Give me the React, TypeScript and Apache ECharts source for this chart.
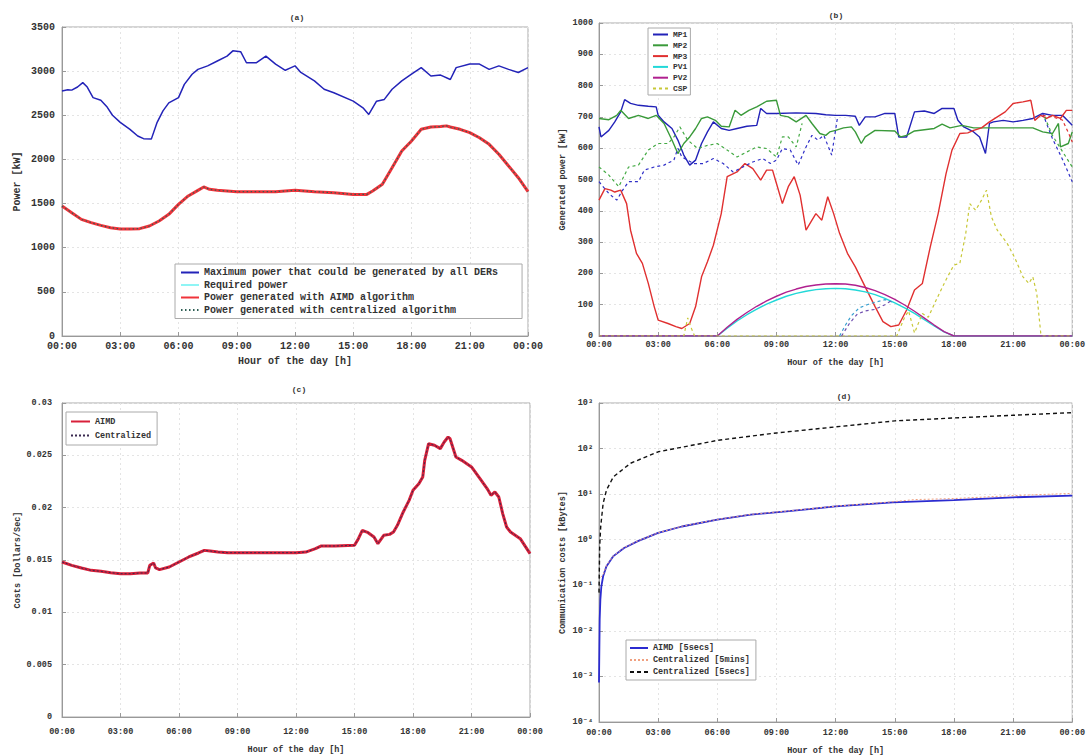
import React, { useEffect, useRef } from "react";
import * as echarts from "echarts";

const FONT = '"Liberation Mono", "DejaVu Sans Mono", monospace';

// ---------- Panel (a): power [kW] vs hour ----------
const maxPower: [number, number][] = [
  [0, 2775], [0.3, 2790], [0.5, 2785], [0.8, 2820], [1.07, 2870], [1.3, 2820], [1.6, 2700], [2, 2670],
  [2.3, 2600], [2.6, 2500], [3, 2420], [3.5, 2340], [3.9, 2265], [4.2, 2235], [4.6, 2230], [4.9, 2420],
  [5.2, 2550], [5.5, 2640], [6, 2700], [6.3, 2850], [6.7, 2965], [7, 3020], [7.5, 3060], [8, 3115],
  [8.5, 3170], [8.8, 3230], [9.2, 3220], [9.5, 3095], [10, 3095], [10.5, 3170], [11, 3080], [11.5, 3010],
  [11.8, 3040], [12, 3060], [12.3, 2985], [13, 2890], [13.5, 2795], [14, 2755], [15, 2660], [15.5, 2585],
  [15.8, 2510], [16.2, 2660], [16.6, 2680], [17, 2795], [17.5, 2890], [18, 2965], [18.5, 3040], [19, 2945],
  [19.5, 2955], [20, 2905], [20.3, 3040], [21, 3080], [21.5, 3080], [22, 3020], [22.5, 3060], [23, 3020],
  [23.5, 2985], [24, 3040],
];
const requiredPower: [number, number][] = [
  [0, 1472], [0.5, 1397], [1, 1321], [1.5, 1284], [2, 1253], [2.5, 1227], [3, 1212], [3.5, 1212], [4, 1216],
  [4.5, 1246], [5, 1303], [5.5, 1378], [6, 1491], [6.5, 1586], [7, 1650], [7.3, 1688], [7.6, 1661], [8, 1650],
  [9, 1635], [10, 1635], [11, 1635], [12, 1650], [13, 1635], [14, 1623], [15, 1604], [15.7, 1604], [16, 1642],
  [16.5, 1718], [17, 1907], [17.5, 2096], [18, 2209], [18.5, 2341], [19, 2367], [19.5, 2372], [19.8, 2380],
  [20, 2367], [20.5, 2341], [21, 2303], [21.5, 2246], [22, 2171], [22.5, 2058], [23, 1926], [23.5, 1793], [24, 1635],
];
const aimdPower = requiredPower;
const centralizedPower = requiredPower;

// ---------- Panel (b): generated power [kW] per DER ----------
const mp1: [number, number][] = [
  [0, 668], [0.1, 636], [0.5, 657], [0.8, 684], [1.1, 716], [1.3, 755], [1.6, 743], [2, 737], [2.5, 734],
  [2.9, 732], [3, 705], [3.3, 684], [3.7, 663], [4, 626], [4.3, 578], [4.6, 546], [4.9, 562], [5.2, 615],
  [5.5, 652], [5.8, 684], [6.2, 663], [6.6, 657], [7, 663], [7.5, 670], [8, 673], [8.2, 727], [8.5, 711],
  [9, 711], [10, 713], [11, 711], [11.5, 707], [12, 705], [12.5, 705], [13, 702], [13.2, 673], [13.5, 700],
  [14, 700], [14.5, 711], [15, 711], [15.2, 636], [15.6, 636], [16, 716], [16.5, 719], [17, 711], [17.4, 727],
  [18, 727], [18.2, 689], [18.5, 668], [19, 652], [19.3, 636], [19.6, 583], [19.8, 679], [20, 684], [20.5, 689],
  [21, 684], [21.5, 689], [22, 695], [22.5, 711], [23, 705], [23.5, 705], [24, 673],
];
const mp2: [number, number][] = [
  [0, 695], [0.5, 691], [0.9, 705], [1.1, 721], [1.5, 695], [2, 705], [2.5, 695], [2.9, 705], [3.3, 679],
  [3.7, 626], [4, 583], [4.3, 615], [4.6, 636], [4.9, 663], [5.2, 695], [5.5, 700], [5.9, 689], [6.2, 670],
  [6.6, 668], [6.9, 721], [7.2, 705], [7.6, 721], [8, 732], [8.5, 750], [9, 753], [9.2, 705], [9.6, 700],
  [10, 684], [10.5, 705], [10.8, 679], [11.2, 647], [11.5, 641], [11.7, 652], [12, 657], [12.4, 665],
  [12.8, 668], [13, 652], [13.3, 615], [13.5, 636], [14, 657], [15, 655], [15.3, 636], [15.6, 641], [16, 655],
  [17, 663], [17.4, 677], [17.8, 665], [18.4, 673], [19, 665], [20, 665], [21, 665], [22, 665], [22.5, 652],
  [23, 647], [23.3, 679], [23.4, 604], [23.8, 615], [24, 652],
];
const mp3: [number, number][] = [
  [0, 434], [0.3, 471], [0.6, 466], [0.8, 460], [1.1, 466], [1.4, 423], [1.6, 338], [1.9, 264], [2.2, 232],
  [2.5, 168], [2.8, 94], [3, 51], [3.5, 40], [3.9, 30], [4.2, 24], [4.6, 40], [4.9, 94], [5.2, 189], [5.5, 237],
  [5.8, 290], [6.2, 391], [6.5, 509], [7, 524], [7.4, 551], [7.8, 535], [8.2, 498], [8.5, 530], [8.8, 530],
  [9, 487], [9.3, 423], [9.6, 477], [9.9, 509], [10.2, 450], [10.5, 338], [10.8, 370], [11, 391], [11.3, 370],
  [11.6, 445], [11.9, 391], [12.2, 328], [12.6, 264], [13, 221], [13.5, 157], [14, 94], [14.4, 46], [14.8, 30],
  [15.2, 35], [15.6, 83], [16, 147], [16.4, 168], [16.8, 285], [17.2, 391], [17.6, 519], [17.9, 594],
  [18.3, 647], [18.7, 649], [19, 657], [19.4, 665], [19.8, 684], [20.2, 700], [20.6, 716], [21, 743],
  [21.5, 748], [21.9, 753], [22.1, 689], [22.4, 705], [22.7, 695], [23, 705], [23.4, 695], [23.7, 721], [24, 721],
];
const pv1: [number, number][] = [
  [0, 0], [6, 0], [6.5, 25], [7, 48], [7.5, 68], [8, 86], [8.5, 102], [9, 115], [9.5, 127], [10, 136],
  [10.5, 143], [11, 148], [11.5, 151], [12, 152], [12.5, 151], [13, 147], [13.5, 141], [14, 132], [14.5, 120],
  [15, 106], [15.5, 90], [16, 72], [16.5, 52], [17, 32], [17.5, 13], [18, 0], [24, 0],
];
const pv2: [number, number][] = [
  [0, 0], [6, 0], [6.5, 28], [7, 53], [7.5, 75], [8, 95], [8.5, 112], [9, 127], [9.5, 140], [10, 150],
  [10.5, 158], [11, 163], [11.5, 166], [12, 167], [12.5, 166], [13, 162], [13.5, 155], [14, 145], [14.5, 132],
  [15, 117], [15.5, 99], [16, 79], [16.5, 57], [17, 35], [17.5, 14], [18, 0], [24, 0],
];
const csp: [number, number][] = [
  [0, 0], [4.3, 0], [4.5, 58], [4.65, 30], [4.85, 0], [15.1, 0], [15.5, 60], [15.7, 80], [16, 10], [16.4, 72],
  [16.7, 60], [17.1, 115], [17.6, 180], [18, 227], [18.3, 232], [18.6, 328], [18.8, 423], [19.1, 402],
  [19.4, 434], [19.65, 466], [19.9, 381], [20.2, 338], [20.7, 296], [21.1, 248], [21.5, 189], [21.8, 168],
  [22, 189], [22.2, 136], [22.4, 10], [22.5, 0], [24, 0],
];
// centralized dispatch (dashed), only where it departs from the solid curves
const mp1CentralA: [number, number][] = [
  [0, 493], [0.5, 455], [0.9, 434], [1.2, 466], [1.5, 493], [2, 493], [2.3, 530], [2.8, 540], [3.3, 546],
  [3.8, 562], [4, 600], [4.2, 572], [4.8, 551], [5.3, 551], [5.8, 567], [6.3, 551], [6.8, 524], [7.3, 540],
  [7.8, 556], [8.3, 567], [8.7, 551], [9, 562], [9.3, 599], [9.7, 594], [10.1, 546], [10.5, 604], [10.8, 641],
  [11.1, 626], [11.4, 641], [11.8, 578], [12.1, 700],
];
const mp1CentralB: [number, number][] = [[22.5, 711], [23, 630], [23.5, 565], [24, 493]];
const mp2CentralA: [number, number][] = [
  [0, 540], [0.5, 514], [1, 477], [1.5, 540], [2, 546], [2.5, 594], [3, 615], [3.5, 615], [3.8, 636],
  [4.1, 668], [4.5, 626], [5, 599], [5.5, 609], [6, 615], [6.5, 594], [7, 572], [7.5, 588], [8, 604],
  [8.5, 599], [9, 572], [9.3, 636], [9.6, 636], [10, 604], [10.3, 679],
];
const mp2CentralB: [number, number][] = [[22.6, 700], [23, 640], [23.5, 590], [24, 540]];
const mp3CentralB: [number, number][] = [[22.5, 705], [23, 700], [23.5, 690], [23.8, 650], [24, 620]];
const pv1Central: [number, number][] = [
  [12.2, 0], [12.5, 35], [12.8, 65], [13.2, 90], [13.6, 100], [14, 108], [14.5, 116], [14.9, 108],
];
const pv2Central: [number, number][] = [
  [12.3, 0], [12.7, 40], [13.1, 70], [13.5, 80], [14, 85], [14.5, 100], [14.9, 116],
];

// ---------- Panel (c): costs [Dollars/Sec] ----------
const costAimd: [number, number][] = [
  [0, 0.01481], [0.5, 0.01449], [1, 0.01424], [1.5, 0.01401], [2, 0.01392], [2.5, 0.01379], [3, 0.01369],
  [3.5, 0.01369], [4, 0.01376], [4.4, 0.01376], [4.5, 0.01449], [4.7, 0.01471], [4.8, 0.01424], [5, 0.01408],
  [5.5, 0.01433], [6, 0.01481], [6.5, 0.01529], [7, 0.01567], [7.3, 0.01592], [7.6, 0.01586], [8, 0.01576],
  [8.5, 0.0157], [9, 0.0157], [10, 0.0157], [11, 0.0157], [12, 0.0157], [12.5, 0.01576], [13, 0.01608],
  [13.3, 0.01634], [14, 0.01634], [15, 0.0164], [15.2, 0.01704], [15.4, 0.01783], [15.7, 0.01761], [16, 0.0172],
  [16.2, 0.01656], [16.5, 0.01736], [16.8, 0.01745], [17, 0.01768], [17.2, 0.01831], [17.5, 0.01959],
  [17.8, 0.0207], [18, 0.02166], [18.3, 0.02229], [18.5, 0.02293], [18.6, 0.02452], [18.8, 0.02611],
  [19.1, 0.02596], [19.4, 0.02564], [19.6, 0.02627], [19.8, 0.02675], [19.9, 0.02659], [20.2, 0.02484],
  [20.5, 0.02452], [21, 0.02389], [21.5, 0.02261], [21.8, 0.02182], [22, 0.02118], [22.2, 0.0215],
  [22.4, 0.02102], [22.6, 0.01943], [22.8, 0.01815], [23, 0.01768], [23.5, 0.01704], [24, 0.01561],
];
const costCentral = costAimd;

// ---------- Panel (d): communication costs [kBytes] ----------
const commAimd: [number, number][] = [
  [0, 0.00074], [0.035, 0.0178], [0.07, 0.049], [0.12, 0.095], [0.21, 0.158], [0.38, 0.263], [0.73, 0.437],
  [1.27, 0.66], [1.97, 0.93], [3, 1.41], [4.2, 1.95], [6, 2.75], [7.7, 3.55], [9.5, 4.17], [12, 5.37],
  [14.9, 6.6], [18, 7.4], [21, 8.5], [24, 9.3],
];
const commCentral5min: [number, number][] = [
  [0.083, 0.15], [0.21, 0.17], [0.38, 0.27], [0.73, 0.44], [1.27, 0.67], [1.97, 0.94], [3, 1.42], [4.2, 1.97],
  [6, 2.78], [7.7, 3.6], [9.5, 4.25], [12, 5.45], [14.9, 6.8], [16, 7.6], [18, 8.0], [21, 9.3], [24, 10.4],
];
const commCentral5sec: [number, number][] = [
  [0, 0.069], [0.035, 0.72], [0.087, 1.95], [0.21, 6.3], [0.38, 12.3], [0.73, 24], [1.6, 47.6], [3, 85],
  [6, 151], [9, 220], [12, 299], [15, 405], [18, 470], [21, 538], [24, 615],
];

const SUP: Record<string, string> = { "-": "⁻", "0": "⁰", "1": "¹", "2": "²", "3": "³", "4": "⁴" };

function hourLabel(v: number) {
  const h = Math.round(v) % 24;
  return (h < 10 ? "0" : "") + h + ":00";
}

function plainNumber(v: number) {
  return String(parseFloat(v.toFixed(4)));
}

function xAxis(gridIndex: number, fontSize: number, margin: number, nameGap: number) {
  return {
    type: "value", gridIndex, min: 0, max: 24, interval: 3,
    name: "Hour of the day [h]", nameLocation: "middle", nameGap,
    nameTextStyle: { fontFamily: FONT, fontSize, fontWeight: "bold", color: "#333" },
    axisLine: { show: true, onZero: false, lineStyle: { color: "#999" } },
    axisTick: { show: true, inside: true, length: 4, lineStyle: { color: "#999" } },
    axisLabel: { fontFamily: FONT, fontSize, fontWeight: "bold", color: "#333", margin, formatter: hourLabel },
    splitLine: { show: true, lineStyle: { color: "#e4e4e4", type: [2, 3] } },
  };
}

function yAxis(gridIndex: number, name: string, fontSize: number, margin: number, nameGap: number, extra: any) {
  return {
    gridIndex, name, nameLocation: "middle", nameGap,
    nameTextStyle: { fontFamily: FONT, fontSize, fontWeight: "bold", color: "#333" },
    axisLine: { show: true, onZero: false, lineStyle: { color: "#999" } },
    axisTick: { show: true, inside: true, length: 4, lineStyle: { color: "#999" } },
    axisLabel: { fontFamily: FONT, fontSize, fontWeight: "bold", color: "#333", margin, formatter: plainNumber },
    splitLine: { show: true, lineStyle: { color: "#e4e4e4", type: [2, 3] } },
    ...extra,
  };
}

function line(name: string, data: [number, number][], idx: number, color: string, width: number, type: any = "solid", z = 2) {
  return {
    type: "line", name, data, xAxisIndex: idx, yAxisIndex: idx, showSymbol: false, symbol: "none",
    lineStyle: { color, width, type }, itemStyle: { color }, z, animation: false,
  };
}

function legend(data: string[], left: number, top: number, fontSize: number, itemWidth: number, itemHeight: number, itemGap: number, padding: number[]) {
  return {
    data, left, top, orient: "vertical", itemWidth, itemHeight, itemGap, padding,
    backgroundColor: "#fff", borderColor: "#aaa", borderWidth: 1, borderRadius: 0,
    selectedMode: false,
    itemStyle: { opacity: 0, borderWidth: 0 },
    textStyle: { fontFamily: FONT, fontSize, fontWeight: "bold", color: "#333", lineHeight: itemHeight + 1 },
  };
}

function title(text: string, x: number, y: number) {
  return {
    type: "text", x, y,
    style: { text, fill: "#333", fontFamily: FONT, fontSize: 8, fontWeight: "bold", align: "center", verticalAlign: "middle" },
  };
}

export default function App() {
  const ref = useRef<HTMLDivElement>(null);
  useEffect(() => {
    if (!ref.current) return;
    const chart = echarts.init(ref.current, undefined, { renderer: "svg" });
    const aNames = [
      "Maximum power that could be generated by all DERs",
      "Required power",
      "Power generated with AIMD algorithm",
      "Power generated with centralized algorithm",
    ];
    const option: any = {
      animation: false,
      backgroundColor: "#fff",
      grid: [
        { left: 62, top: 27, width: 466, height: 309, show: true, borderColor: "#aaa", borderWidth: 1 },
        { left: 599, top: 23, width: 475, height: 313, show: true, borderColor: "#aaa", borderWidth: 1 },
        { left: 62, top: 403, width: 468, height: 314, show: true, borderColor: "#aaa", borderWidth: 1 },
        { left: 599, top: 403, width: 477, height: 320, show: true, borderColor: "#aaa", borderWidth: 1 },
      ],
      xAxis: [xAxis(0, 10, 5, 20), xAxis(1, 8.5, 4, 22), xAxis(2, 8.5, 10, 28), xAxis(3, 8.5, 6, 24)],
      yAxis: [
        yAxis(0, "Power [kW]", 10, 7, 40, { type: "value", min: 0, max: 3500, interval: 500 }),
        yAxis(1, "Generated power [kW]", 8.5, 6, 32, { type: "value", min: 0, max: 1000, interval: 100 }),
        yAxis(2, "Costs [Dollars/Sec]", 8.5, 10, 40, { type: "value", min: 0, max: 0.03, interval: 0.005 }),
        yAxis(3, "Communication costs [kBytes]", 8.5, 6, 32, {
          type: "log", logBase: 10, min: 0.0001, max: 1000,
          axisLabel: {
            fontFamily: FONT, fontSize: 8.5, fontWeight: "bold", color: "#333", margin: 6,
            formatter: (v: number) => {
              const e = String(Math.round(Math.log10(v)));
              return "10" + e.split("").map((c) => SUP[c] || c).join("");
            },
          },
        }),
      ],
      legend: [
        legend(aNames, 175, 264, 10, 18, 10, 1.5, [3, 24, 3, 5]),
        legend(["MP1", "MP2", "MP3", "PV1", "PV2", "CSP"], 648, 28, 8, 15, 8, 1.8, [2, 3, 2, 4]),
        legend(["AIMD", "Centralized"], 66, 412, 8.5, 19, 10, 3, [4, 6, 4, 4]),
        legend(["AIMD [5secs]", "Centralized [5mins]", "Centralized [5secs]"], 626, 640, 8.5, 18, 9, 2, [3, 6, 3, 3]),
      ],
      graphic: [title("(a)", 297, 17), title("(b)", 836, 15), title("(c)", 299, 389), title("(d)", 844, 396)],
      series: [
        // (a)
        line(aNames[0], maxPower, 0, "#2323b8", 1.5),
        line(aNames[1], requiredPower, 0, "#8ff5f5", 1.5),
        line(aNames[2], aimdPower, 0, "#f0333a", 3),
        line(aNames[3], centralizedPower, 0, "#2f5f55", 1.2, [1.5, 2.5]),
        // (b)
        line("MP1", mp1, 1, "#2222b8", 1.4),
        line("MP2", mp2, 1, "#3a9a3a", 1.4),
        line("MP3", mp3, 1, "#e03030", 1.4),
        line("PV1", pv1, 1, "#22d8d8", 1.4),
        line("PV2", pv2, 1, "#b0208f", 1.4),
        line("CSP", csp, 1, "#c8c838", 1.2, [3, 3]),
        line("MP1 centralized a", mp1CentralA, 1, "#3030c8", 1.2, [3, 3]),
        line("MP1 centralized b", mp1CentralB, 1, "#3030c8", 1.2, [3, 3]),
        line("MP2 centralized a", mp2CentralA, 1, "#44aa44", 1.2, [3, 3]),
        line("MP2 centralized b", mp2CentralB, 1, "#44aa44", 1.2, [3, 3]),
        line("MP3 centralized b", mp3CentralB, 1, "#e03030", 1.2, [3, 3]),
        line("PV1 centralized", pv1Central, 1, "#3aa0d0", 1.2, [3, 3]),
        line("PV2 centralized", pv2Central, 1, "#7050b0", 1.2, [3, 3]),
        // (c)
        line("AIMD", costAimd, 2, "#d8203a", 3),
        line("Centralized", costCentral, 2, "#3a2a50", 1, [2, 2]),
        // (d)
        line("AIMD [5secs]", commAimd, 3, "#2b2bd0", 1.8),
        line("Centralized [5mins]", commCentral5min, 3, "#f0a080", 1, [2, 2]),
        line("Centralized [5secs]", commCentral5sec, 3, "#111111", 1.4, [4, 3]),
      ],
    };
    chart.setOption(option);
    return () => chart.dispose();
  }, []);
  return <div ref={ref} style={{ position: "fixed", left: 0, top: 0, width: 1088, height: 756 }} />;
}
